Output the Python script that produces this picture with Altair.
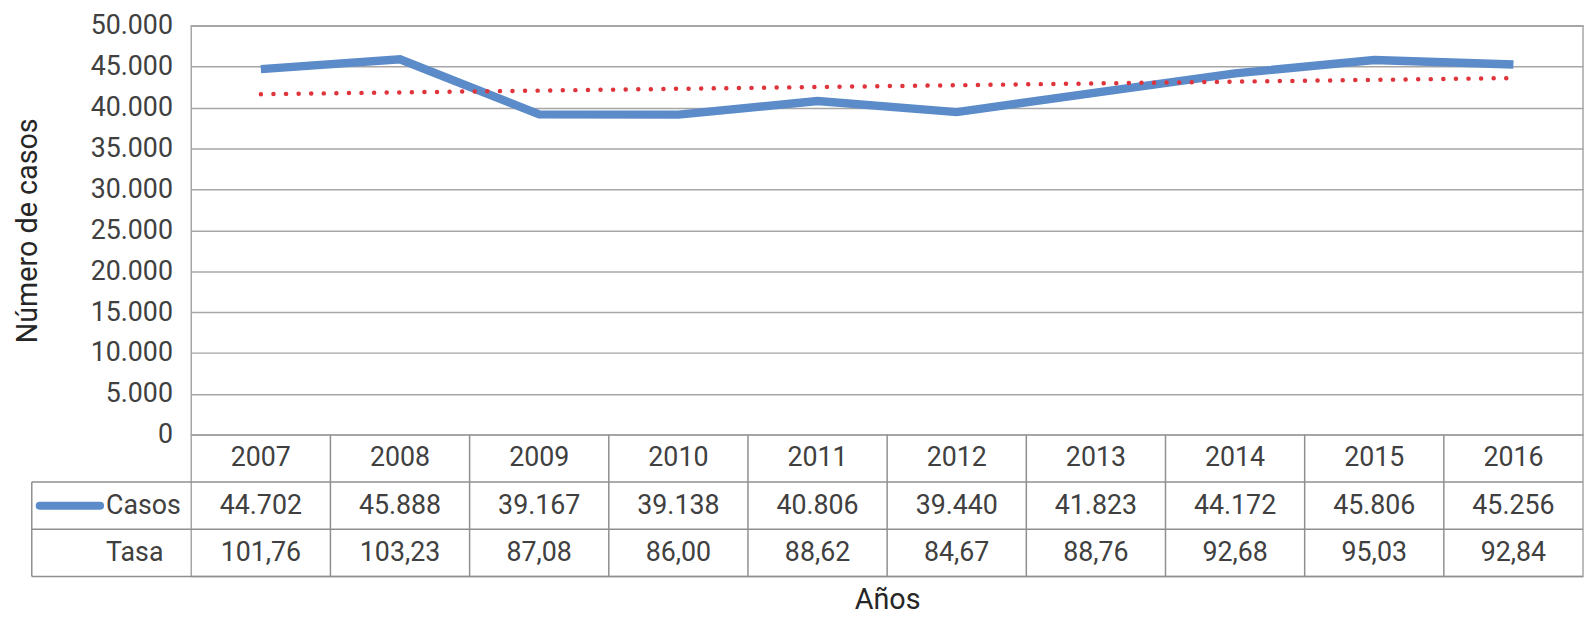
import altair as alt
import pandas as pd

# ---- data ----
years = [2007, 2008, 2009, 2010, 2011, 2012, 2013, 2014, 2015, 2016]
casos = [44702, 45888, 39167, 39138, 40806, 39440, 41823, 44172, 45806, 45256]
tasa = [101.76, 103.23, 87.08, 86.00, 88.62, 84.67, 88.76, 92.68, 95.03, 92.84]
row_labels = ["Casos", "Tasa"]
y_ticks = list(range(0, 50001, 5000))

# ---- style ----
FONT = "Roboto"
TEXT = "#404040"
TITLE = "#262626"
GRID = "#a6a6a6"
TABLE = "#8f8f8f"
BLUE = "#5b8bc8"
RED = "#e0343c"

PLOT_W = 1405
PLOT_H = 413
TABLE_H = 143
COL_PX = PLOT_W / 10.0
X0, X1 = 2006.5, 2016.5
LEFT = X0 - 161 / COL_PX          # left edge of the table's label column

def fmt_casos(v):
    return f"{v:,}".replace(",", ".")

def fmt_tasa(v):
    return f"{v:.2f}".replace(".", ",")

df = pd.DataFrame({"year": years, "casos": casos, "tasa": tasa})

xscale = alt.Scale(domain=[X0, X1], nice=False, zero=False)

yaxis = alt.Axis(
    values=y_ticks,
    labelExpr="replace(format(datum.value, ','), ',', '.')",
    title="Número de casos",
    titleFontSize=29, titleFontWeight="normal", titleColor=TITLE, titlePadding=48,
    labelFontSize=27, labelColor=TEXT, labelPadding=19,
    ticks=False, domain=False, grid=True, gridColor=GRID, gridWidth=1.5,
)
yenc = alt.Y("casos:Q", scale=alt.Scale(domain=[0, 50000], nice=False), axis=yaxis)
xenc = alt.X("year:Q", scale=xscale, axis=None)

line = alt.Chart(df).mark_line(color=BLUE, strokeWidth=8.5).encode(x=xenc, y=yenc)

trend = (
    alt.Chart(df)
    .transform_regression("year", "casos", method="linear", extent=[2007, 2016])
    .mark_line(color=RED, strokeWidth=4.5, strokeDash=[0.1, 12.6], strokeCap="round")
    .encode(x=xenc, y=yenc)
)

top = alt.layer(line, trend).properties(width=PLOT_W, height=PLOT_H)

# ---- data table under the plot ----
tbl = pd.DataFrame({
    "year": years * 3,
    "r": [0.5] * 10 + [1.5] * 10 + [2.5] * 10,
    "txt": [str(y) for y in years] + [fmt_casos(c) for c in casos] + [fmt_tasa(t) for t in tasa],
})

xaxis_t = alt.Axis(title="Años", labels=False, ticks=False, domain=False, grid=False,
                   titleFontSize=29, titleFontWeight="normal", titleColor=TITLE, titlePadding=9)
yscale_t = alt.Scale(domain=[0, 3], reverse=True, nice=False, zero=False)

cells = alt.Chart(tbl).mark_text(fontSize=27, color=TEXT, baseline="middle", align="center").encode(
    x=alt.X("year:Q", scale=xscale, axis=xaxis_t),
    y=alt.Y("r:Q", scale=yscale_t, axis=None),
    text="txt:N",
)

vlines = alt.Chart(pd.DataFrame({"b": [y + 0.5 for y in years[:-1]]})).mark_rule(
    color=TABLE, strokeWidth=1.5).encode(x=alt.X("b:Q", scale=xscale, axis=xaxis_t))

hlines = alt.Chart(pd.DataFrame({"x1": [LEFT] * 3, "x2": [X1] * 3, "yb": [1, 2, 3]})).mark_rule(
    color=TABLE, strokeWidth=1.5).encode(
    x=alt.X("x1:Q", scale=xscale, axis=xaxis_t), x2="x2:Q",
    y=alt.Y("yb:Q", scale=yscale_t, axis=None))

lborder = alt.Chart(pd.DataFrame({"x1": [LEFT], "y1": [1], "y2": [3]})).mark_rule(
    color=TABLE, strokeWidth=1.5).encode(
    x=alt.X("x1:Q", scale=xscale, axis=xaxis_t),
    y=alt.Y("y1:Q", scale=yscale_t, axis=None), y2="y2:Q")

swatch = alt.Chart(pd.DataFrame({"x1": [LEFT + 8 / COL_PX], "x2": [LEFT + 69 / COL_PX], "y1": [1.5]})).mark_rule(
    color=BLUE, strokeWidth=8, strokeCap="round").encode(
    x=alt.X("x1:Q", scale=xscale, axis=xaxis_t), x2="x2:Q",
    y=alt.Y("y1:Q", scale=yscale_t, axis=None))

rlabels = alt.Chart(pd.DataFrame({"x1": [LEFT + 75 / COL_PX] * 2, "r": [1.5, 2.5], "lab": row_labels})).mark_text(
    fontSize=27, color=TEXT, baseline="middle", align="left").encode(
    x=alt.X("x1:Q", scale=xscale, axis=xaxis_t),
    y=alt.Y("r:Q", scale=yscale_t, axis=None),
    text="lab:N")

table = alt.layer(vlines, hlines, lborder, swatch, cells, rlabels).properties(width=PLOT_W, height=TABLE_H)

chart = (
    alt.vconcat(top, table, spacing=0, bounds="flush")
    .properties(padding={"left": 5, "top": 0, "right": 0, "bottom": 0})
    .configure(font=FONT)
    .configure_view(stroke=GRID, strokeWidth=1.5)
)

chart.save("out.html", embed_options={"renderer": "svg", "actions": False})
